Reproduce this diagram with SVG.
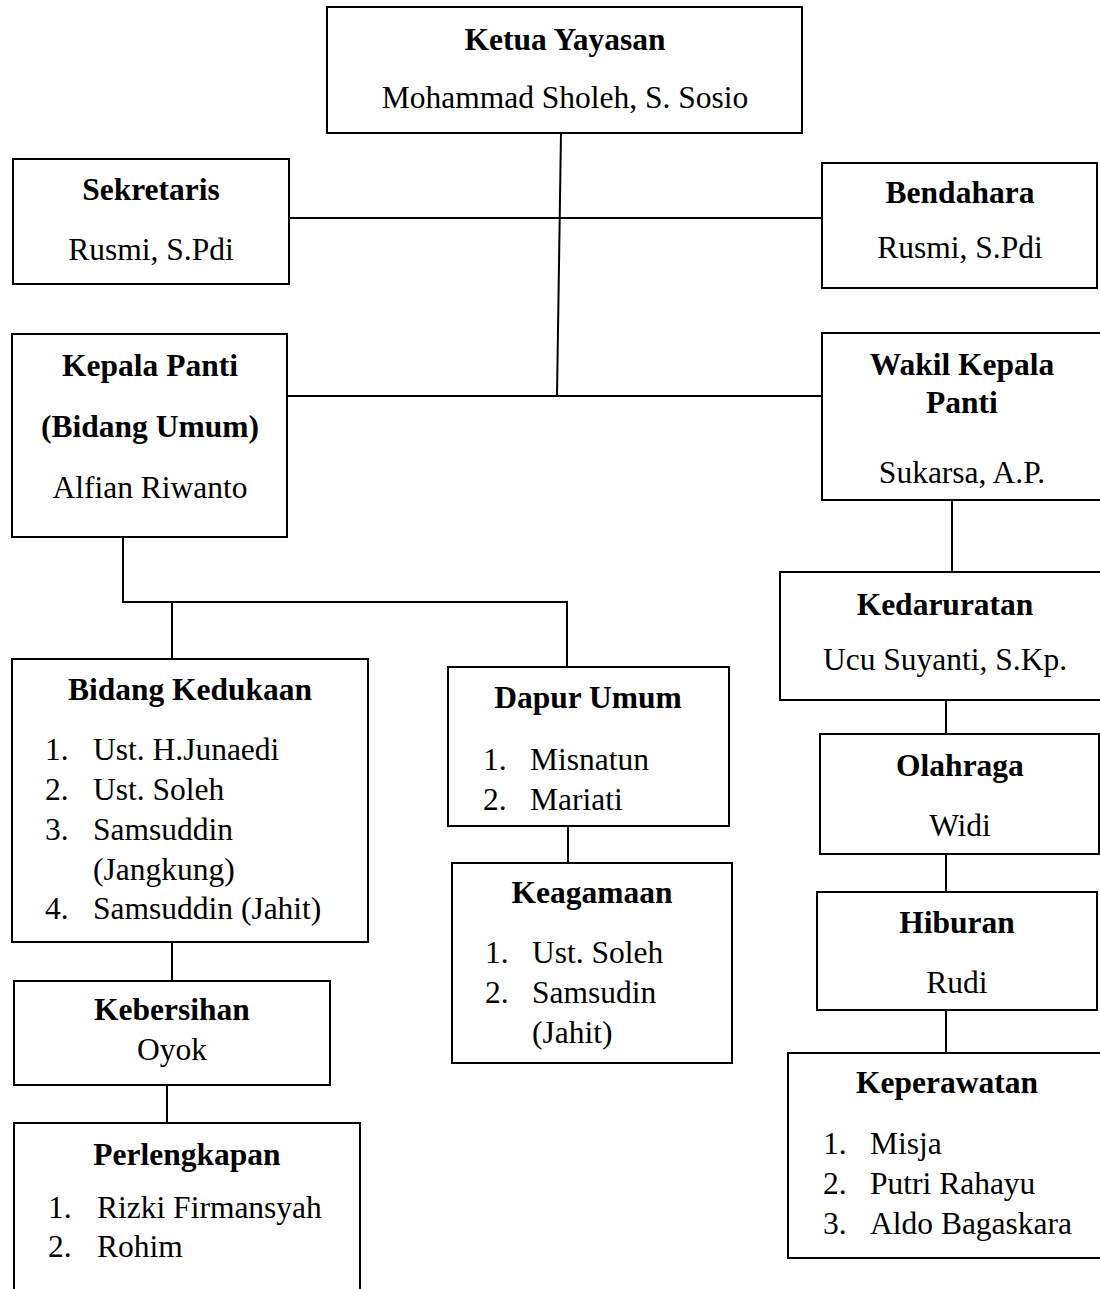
<svg xmlns="http://www.w3.org/2000/svg" width="1100" height="1289" viewBox="0 0 1100 1289">
<style>
rect{fill:#fff;stroke:#000;stroke-width:2}
.c line,.c polyline{stroke:#000;stroke-width:2;fill:none}
text{font-family:"Liberation Serif","Times New Roman",serif;font-size:31.5px;fill:#000}
.t{font-weight:bold;text-anchor:middle}
.m{text-anchor:middle}
</style>
<rect x="0" y="0" width="1100" height="1289" style="stroke:none"/>
<g class="c" id="connectors">
<line x1="561" y1="133" x2="557" y2="396"/>
<line x1="289" y1="218" x2="822" y2="218"/>
<line x1="287" y1="396" x2="822" y2="396"/>
<polyline points="123,537 123,602 567,602 567,667"/>
<line x1="172" y1="602" x2="172" y2="659"/>
<line x1="568" y1="826" x2="568" y2="863"/>
<line x1="172" y1="942" x2="172" y2="981"/>
<line x1="167" y1="1085" x2="167" y2="1123"/>
<line x1="952" y1="500" x2="952" y2="572"/>
<line x1="946" y1="700" x2="946" y2="734"/>
<line x1="946" y1="854" x2="946" y2="892"/>
<line x1="946" y1="1010" x2="946" y2="1053"/>
</g>
<g id="ketua">
<rect x="327" y="7" width="475" height="126"/>
<text class="t" x="565" y="50">Ketua Yayasan</text>
<text class="m" x="565" y="108">Mohammad Sholeh, S. Sosio</text>
</g>
<g id="sekretaris">
<rect x="13" y="159" width="276" height="125"/>
<text class="t" x="151" y="200">Sekretaris</text>
<text class="m" x="151" y="260">Rusmi, S.Pdi</text>
</g>
<g id="bendahara">
<rect x="822" y="163" width="275" height="125"/>
<text class="t" x="960" y="203">Bendahara</text>
<text class="m" x="960" y="258">Rusmi, S.Pdi</text>
</g>
<g id="kepala-panti">
<rect x="12" y="334" width="275" height="203"/>
<text class="t" x="150" y="376">Kepala Panti</text>
<text class="t" x="150" y="437">(Bidang Umum)</text>
<text class="m" x="150" y="498">Alfian Riwanto</text>
</g>
<g id="wakil-kepala">
<rect x="822" y="333" width="290" height="167"/>
<text class="t" x="962" y="375">Wakil Kepala</text>
<text class="t" x="962" y="413">Panti</text>
<text class="m" x="962" y="483">Sukarsa, A.P.</text>
</g>
<g id="kedaruratan">
<rect x="780" y="572" width="330" height="128"/>
<text class="t" x="945" y="615">Kedaruratan</text>
<text class="m" x="945" y="670">Ucu Suyanti, S.Kp.</text>
</g>
<g id="bidang-kedukaan">
<rect x="12" y="659" width="356" height="283"/>
<text class="t" x="190" y="700">Bidang Kedukaan</text>
<text x="45" y="760">1.</text><text x="93" y="760">Ust. H.Junaedi</text>
<text x="45" y="800">2.</text><text x="93" y="800">Ust. Soleh</text>
<text x="45" y="840">3.</text><text x="93" y="840">Samsuddin</text>
<text x="93" y="880">(Jangkung)</text>
<text x="45" y="919">4.</text><text x="93" y="919">Samsuddin (Jahit)</text>
</g>
<g id="kebersihan">
<rect x="14" y="981" width="316" height="104"/>
<text class="t" x="172" y="1020">Kebersihan</text>
<text class="m" x="172" y="1060">Oyok</text>
</g>
<g id="perlengkapan">
<rect x="14" y="1123" width="346" height="200"/>
<text class="t" x="187" y="1165">Perlengkapan</text>
<text x="48" y="1218">1.</text><text x="97" y="1218">Rizki Firmansyah</text>
<text x="48" y="1257">2.</text><text x="97" y="1257">Rohim</text>
</g>
<g id="dapur-umum">
<rect x="448" y="667" width="281" height="159"/>
<text class="t" x="588" y="708">Dapur Umum</text>
<text x="483" y="770">1.</text><text x="530" y="770">Misnatun</text>
<text x="483" y="810">2.</text><text x="530" y="810">Mariati</text>
</g>
<g id="keagamaan">
<rect x="452" y="863" width="280" height="200"/>
<text class="t" x="592" y="903">Keagamaan</text>
<text x="485" y="963">1.</text><text x="532" y="963">Ust. Soleh</text>
<text x="485" y="1003">2.</text><text x="532" y="1003">Samsudin</text>
<text x="532" y="1043">(Jahit)</text>
</g>
<g id="olahraga">
<rect x="820" y="734" width="279" height="120"/>
<text class="t" x="960" y="776">Olahraga</text>
<text class="m" x="960" y="836">Widi</text>
</g>
<g id="hiburan">
<rect x="817" y="892" width="280" height="118"/>
<text class="t" x="957" y="933">Hiburan</text>
<text class="m" x="957" y="993">Rudi</text>
</g>
<g id="keperawatan">
<rect x="788" y="1053" width="322" height="205"/>
<text class="t" x="947" y="1093">Keperawatan</text>
<text x="823" y="1154">1.</text><text x="870" y="1154">Misja</text>
<text x="823" y="1194">2.</text><text x="870" y="1194">Putri Rahayu</text>
<text x="823" y="1234">3.</text><text x="870" y="1234">Aldo Bagaskara</text>
</g>
</svg>
